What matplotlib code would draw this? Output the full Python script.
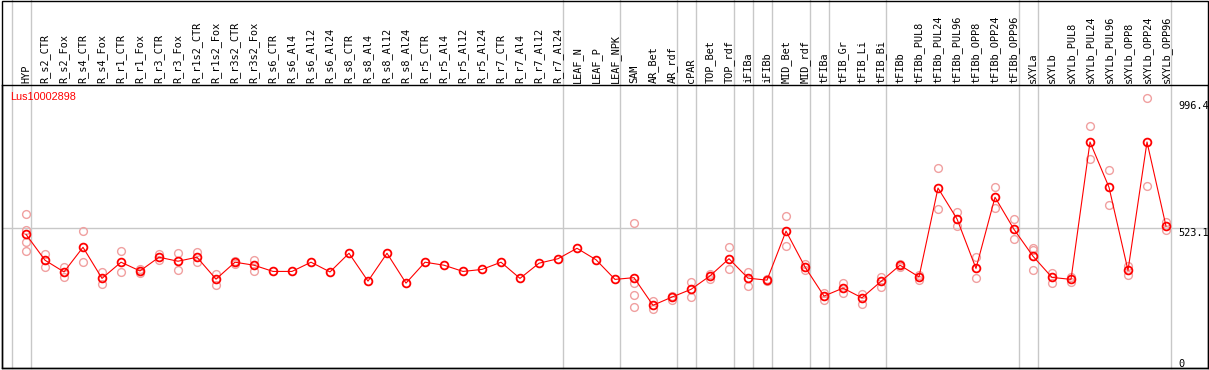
import numpy as np
import matplotlib
matplotlib.use("Agg")
import matplotlib.pyplot as plt
import matplotlib.transforms as mtransforms
from matplotlib.patches import Rectangle

# 樣本名稱
samples = ["HYP", "R_s2_CTR", "R_s2_Fox", "R_s4_CTR", "R_s4_Fox", "R_r1_CTR", "R_r1_Fox",
           "R_r3_CTR", "R_r3_Fox", "R_r1s2_CTR", "R_r1s2_Fox", "R_r3s2_CTR", "R_r3s2_Fox",
           "R_s6_CTR", "R_s6_Al4", "R_s6_Al12", "R_s6_Al24", "R_s8_CTR", "R_s8_Al4",
           "R_s8_Al12", "R_s8_Al24", "R_r5_CTR", "R_r5_Al4", "R_r5_Al12", "R_r5_Al24",
           "R_r7_CTR", "R_r7_Al4", "R_r7_Al12", "R_r7_Al24", "LEAF_N", "LEAF_P", "LEAF_NPK",
           "SAM", "AR_Bet", "AR_rdf", "cPAR", "TOP_Bet", "TOP_rdf", "iFIBa", "iFIBb",
           "MID_Bet", "MID_rdf", "tFIBa", "tFIB_Gr", "tFIB_Li", "tFIB_Bi", "tFIBb",
           "tFIBb_PUL8", "tFIBb_PUL24", "tFIBb_PUL96", "tFIBb_OPP8", "tFIBb_OPP24",
           "tFIBb_OPP96", "sXYLa", "sXYLb", "sXYLb_PUL8", "sXYLb_PUL24", "sXYLb_PUL96",
           "sXYLb_OPP8", "sXYLb_OPP24", "sXYLb_OPP96"]

# 平均值
means = [499, 395, 348, 447, 322, 387, 352, 407, 391, 407, 319, 387, 375,
         350, 350, 387, 348, 423, 311, 423, 303, 387, 375, 350, 358, 387, 322, 383, 401,
         443, 397, 318, 325, 214, 247, 278, 332, 401, 323, 315, 512, 368,
         251, 283, 244, 310, 375, 328, 685, 561, 362, 648, 519,
         411, 326, 318, 870, 688, 354, 870, 532]

# 重複樣本 (索引, 數值)
rep_idx = [0, 0, 0, 0, 1, 1, 2, 2, 3, 3, 4, 4, 5, 5, 6, 6, 7, 7, 8, 8, 9, 9, 10, 10,
           11, 11, 12, 12, 32, 32, 32, 32, 33, 33, 34, 34, 35, 35, 36, 36, 37, 37,
           38, 38, 39, 39, 40, 40, 41, 41, 42, 42, 43, 43, 44, 44, 45, 45, 46, 46,
           47, 47, 48, 48, 49, 49, 50, 50, 51, 51, 52, 52, 53, 53, 53, 54, 54, 55, 55,
           56, 56, 57, 57, 58, 58, 59, 59, 60, 60]
rep_val = [580, 516, 469, 432, 419, 369, 369, 329, 511, 387, 348, 298, 431, 348,
           360, 342, 420, 396, 423, 354, 427, 387, 340, 297, 392, 380, 396, 350,
           543, 302, 256, 206, 231, 200, 252, 235, 307, 248, 340, 321, 448, 358,
           349, 293, 318, 311, 573, 451, 381, 356, 262, 235, 305, 264, 260, 218,
           329, 286, 380, 366, 334, 314, 764, 600, 589, 531, 406, 323, 690, 604,
           561, 479, 444, 436, 354, 345, 305, 329, 307, 934, 800, 757, 616,
           373, 336, 1046, 692, 550, 516]

# 分組邊界 (該組最後一個樣本的索引)
group_ends = [-1, 0, 28, 31, 34, 35, 37, 38, 39, 41, 42, 45, 52, 53, 60]
scale_vals = [0, 523.1, 996.4]
gene = "Lus10002898"

W, H = 1209, 370
fig = plt.figure(figsize=(W / 100, H / 100), dpi=100)
ax = fig.add_axes([2 / W, 2 / H, 1206 / W, 283 / H])
ax.set_xlim((2 - 26) / 19, (1208 - 26) / 19)
ax.set_ylim(-38, 1099)
ax.set_xticks([])
ax.set_yticks([])
for s in ax.spines.values():
    s.set_color("black")
    s.set_linewidth(1.0)

grid_c = "#c8c8c8"
ax.axhline(scale_vals[1], color=grid_c, lw=1.0, zorder=1)
for g in group_ends:
    ax.axvline(g + 0.24, ymin=0, ymax=368 / 283, color=grid_c, lw=1.0,
               clip_on=False, zorder=1)

# 外框
fig.add_artist(Rectangle((2 / W, 2 / H), 1206 / W, 367.5 / H, transform=fig.transFigure,
                         fill=False, edgecolor="black", lw=1.0))

x = np.arange(len(samples))
ax.plot(rep_idx, rep_val, linestyle="none", marker="o", markersize=5.6,
        markerfacecolor="none", markeredgecolor="#f0a0a0", markeredgewidth=1.0, zorder=2)
ax.plot(x, means, color="red", lw=0.8, marker="o", markersize=5.6,
        markerfacecolor="none", markeredgecolor="red", markeredgewidth=1.3, zorder=3)

trans = mtransforms.blended_transform_factory(ax.transData, ax.transAxes)
for i, name in enumerate(samples):
    ax.text(i, 1 + 2 / 283, name, transform=trans, rotation=90, ha="center", va="bottom",
            fontfamily="DejaVu Sans Mono", fontsize=7.4, color="black")

ax.text(8 / 1206, 1 - 7 / 283, gene, transform=ax.transAxes, ha="left", va="top",
        fontfamily="Liberation Sans", fontsize=7.8, color="red")

lab_x = (1178 - 26) / 19
for v in scale_vals:
    ax.text(lab_x, v, "0" if v == 0 else str(v), ha="left",
            va="bottom" if v > 900 else "top", fontfamily="DejaVu Sans Mono",
            fontsize=7.4, color="black")

fig.savefig("out.png", dpi=100)
